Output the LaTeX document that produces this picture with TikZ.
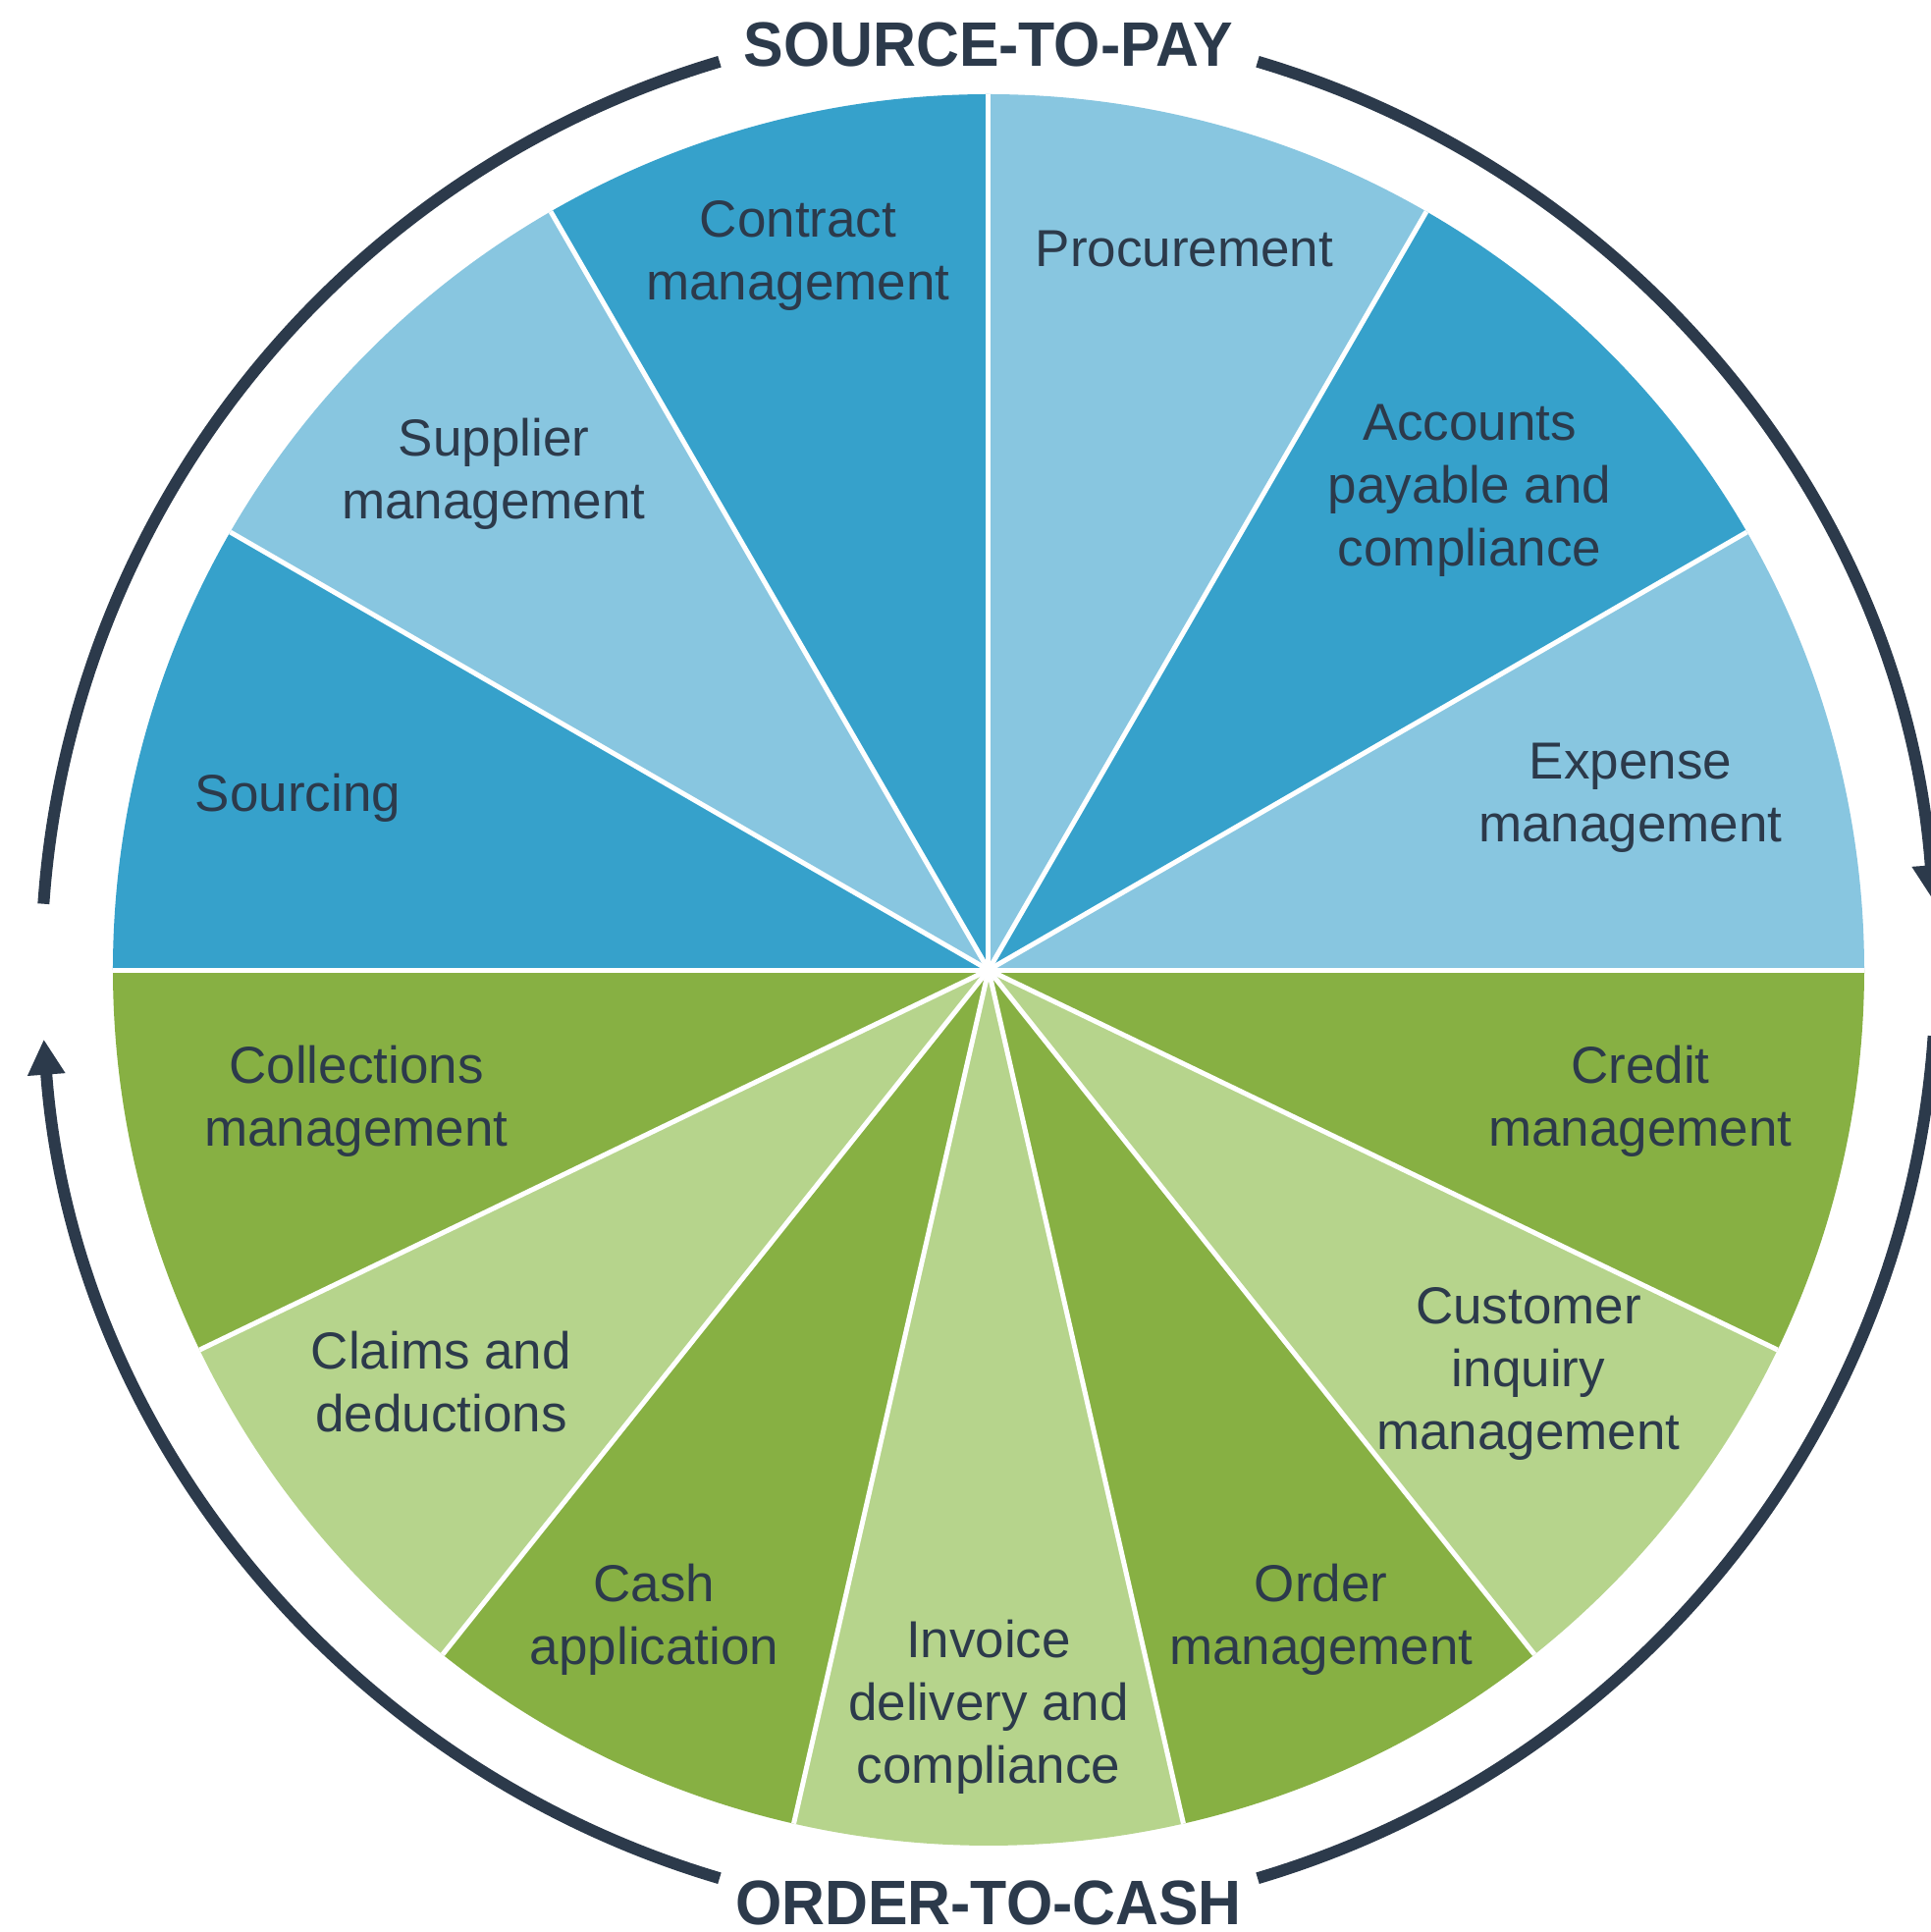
\documentclass[tikz,border=0pt]{standalone}
\usepackage{fontspec}
\setmainfont{Liberation Sans}
\newfontfamily\titlefont{Liberation Sans}[FakeStretch=0.95]
\usetikzlibrary{arrows.meta}
\definecolor{bluedark}{HTML}{36A1CB}
\definecolor{bluelight}{HTML}{88C6E0}
\definecolor{greendark}{HTML}{87B043}
\definecolor{greenlight}{HTML}{B6D48C}
\definecolor{navy}{HTML}{2C3A4B}
\tikzset{
  label/.style={anchor=north, inner sep=0pt, align=center, text=navy,
    font=\fontsize{53}{64}\selectfont},
  titlelabel/.style={anchor=base, inner sep=0pt, text=navy,
    font=\titlefont\bfseries\fontsize{64}{70}\selectfont},
  ring/.style={draw=navy, line width=12pt},
  ringarrow/.style={ring, -{Triangle[length=36pt,width=36pt]}},
  sep/.style={draw=white, line width=5pt}
}
\begin{document}
\begin{tikzpicture}[x=1pt,y=1pt]
\useasboundingbox[fill=white] (-1007,-980) rectangle (960,988);
% upper wedges (30 degrees each)
\foreach \a/\col in {0/bluelight,30/bluedark,60/bluelight,90/bluedark,120/bluelight,150/bluedark}{
  \fill[\col] (0,0) -- (\a:892pt) arc[start angle=\a, delta angle=30, radius=892pt] -- cycle;
}
% lower wedges (180/7 degrees each)
\foreach \k/\col in {0/greendark,1/greenlight,2/greendark,3/greenlight,4/greendark,5/greenlight,6/greendark}{
  \pgfmathsetmacro{\a}{-180/7*\k}
  \fill[\col] (0,0) -- (\a:892pt) arc[start angle=\a, delta angle=-180/7, radius=892pt] -- cycle;
}
% white separators
\foreach \a in {0,30,60,90,120,150,180}{
  \draw[sep] (0,0) -- (\a:892pt);
}
\foreach \k in {1,...,6}{
  \pgfmathsetmacro{\a}{-180/7*\k}
  \draw[sep] (0,0) -- (\a:892pt);
}
\fill[white] (0,0) circle (7pt);
% outer ring
\draw[ring] (176:965pt) arc[start angle=176, end angle=106.5, radius=965pt];
\draw[ringarrow] (73.5:965pt) arc[start angle=73.5, end angle=4.2, radius=965pt];
\draw[ring] (-4:965pt) arc[start angle=-4, end angle=-73.5, radius=965pt];
\draw[ringarrow] (-106.5:965pt) arc[start angle=-106.5, end angle=-175.8, radius=965pt];
% titles
\node[titlelabel] (s2p) at (0,920) {SOURCE-TO-PAY};
\node[titlelabel] (o2c) at (0,-972) {ORDER-TO-CASH};
% labels
\node[label] (contract) at (-194,783.5) {Contract\\management};
\node[label] (procure) at (199.5,753.5) {Procurement};
\node[label] (supplier) at (-504,562.5) {Supplier\\management};
\node[label] (accounts) at (490,576.5) {Accounts\\payable and\\compliance};
\node[label] (sourcing) at (-703.5,200.5) {Sourcing};
\node[label] (expense) at (654,231.5) {Expense\\management};
\node[label] (collect) at (-644,-76.5) {Collections\\management};
\node[label] (credit) at (664,-76.5) {Credit\\management};
\node[label] (claims) at (-557.6,-367.5) {Claims and\\deductions};
\node[label] (customer) at (550,-323.5) {Customer\\inquiry\\management};
\node[label] (cash) at (-340.4,-604.5) {Cash\\application};
\node[label] (order) at (338.7,-604.5) {Order\\management};
\node[label] (invoice) at (0,-661.5) {Invoice\\delivery and\\compliance};
\end{tikzpicture}
\end{document}
